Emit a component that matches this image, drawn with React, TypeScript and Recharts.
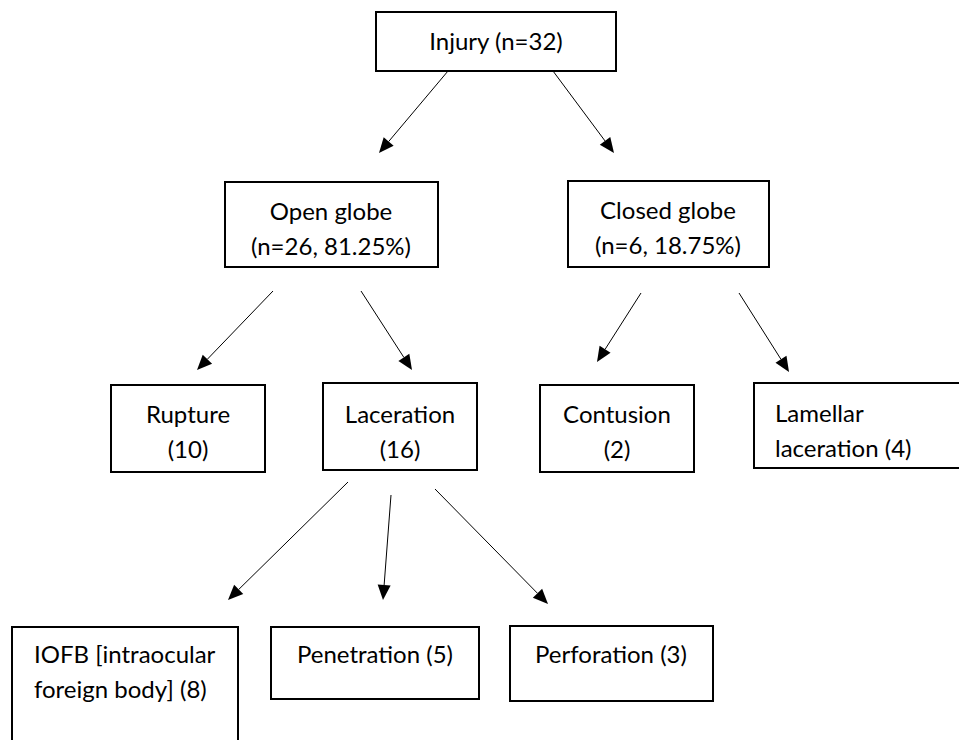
import React from 'react';
import { ScatterChart, Scatter, XAxis, YAxis, ReferenceArea, ReferenceLine } from 'recharts';

// flowchart drawn on a 959 x 740 unit plane (y grows downward)
const nodeLines: string[][] = [
    ['Injury (n=32)'],
    ['Open globe', '(n=26, 81.25%)'],
    ['Closed globe', '(n=6, 18.75%)'],
    ['Rupture', '(10)'],
    ['Laceration', '(16)'],
    ['Contusion', '(2)'],
    ['Lamellar', 'laceration (4)'],
    ['IOFB [intraocular', 'foreign body] (8)'],
    ['Penetration (5)'],
    ['Perforation (3)'],
];
const boxLeft = [376, 225, 568, 111, 323, 540, 754, 12, 271, 510];
const boxRight = [616, 438, 769, 265, 477, 694, 975, 238, 479, 713];
const boxTop = [12, 182, 181, 385, 383, 385, 383, 627, 627, 626];
const boxBottom = [71, 267, 267, 472, 470, 472, 468, 760, 699, 701];
const labelAlign = ['middle', 'middle', 'middle', 'middle', 'middle', 'middle', 'start', 'start', 'middle', 'middle'];
const labelX = [496, 331, 668, 188, 400, 617, 775, 34, 375, 611];
const labelY = [40, 210, 209, 413, 413, 413, 412, 653, 653, 653];

const arrowFromX = [448, 553, 273, 361, 641, 739, 348, 391, 435];
const arrowFromY = [71, 71, 291, 291, 293, 293, 482, 495, 489];
const arrowToX = [379, 614, 197, 412, 597, 789, 228, 383, 548];
const arrowToY = [153, 153, 370, 370, 362, 372, 600, 600, 604];

const LINE_GAP = 35;

const labelData = nodeLines.flatMap((lines, i) =>
    lines.map((text, j) => ({ x: labelX[i], y: labelY[i] + j * LINE_GAP, text, align: labelAlign[i] }))
);

const Arrow = (p: any) => {
    const { x1, y1, x2, y2 } = p;
    const dx = x2 - x1, dy = y2 - y1;
    const len = Math.sqrt(dx * dx + dy * dy);
    const ux = dx / len, uy = dy / len;
    const headLen = 15, half = 6.5;
    const bx = x2 - ux * headLen, by = y2 - uy * headLen;
    const pts = `${x2},${y2} ${bx - uy * half},${by + ux * half} ${bx + uy * half},${by - ux * half}`;
    return (
        <g>
            <line x1={x1} y1={y1} x2={bx} y2={by} stroke="#000" strokeWidth={1} />
            <polygon points={pts} fill="#000" />
        </g>
    );
};

const Label = (p: any) => {
    const { cx, cy, payload } = p;
    return (
        <text x={cx} y={cy} textAnchor={payload.align} dominantBaseline="central"
            fontFamily="Lato, 'Open Sans', sans-serif" fontSize={24} fill="#000">
            {payload.text}
        </text>
    );
};

export default function App() {
    return (
        <div style={{ position: 'absolute', left: 0, top: 0, background: '#fff' }}>
            <ScatterChart width={959} height={740} margin={{ top: 0, right: 0, bottom: 0, left: 0 }}>
                <XAxis type="number" dataKey="x" domain={[0, 959]} hide allowDataOverflow />
                <YAxis type="number" dataKey="y" domain={[0, 740]} reversed hide allowDataOverflow />
                {nodeLines.map((_, i) => (
                    <ReferenceArea key={`box-${i}`} x1={boxLeft[i]} x2={boxRight[i]} y1={boxTop[i]} y2={boxBottom[i]}
                        ifOverflow="visible" fill="none" stroke="#000" strokeWidth={2} />
                ))}
                {arrowFromX.map((_, i) => (
                    <ReferenceLine key={`arrow-${i}`}
                        segment={[{ x: arrowFromX[i], y: arrowFromY[i] }, { x: arrowToX[i], y: arrowToY[i] }]}
                        shape={Arrow} />
                ))}
                <Scatter data={labelData} shape={Label} isAnimationActive={false} />
            </ScatterChart>
        </div>
    );
}
